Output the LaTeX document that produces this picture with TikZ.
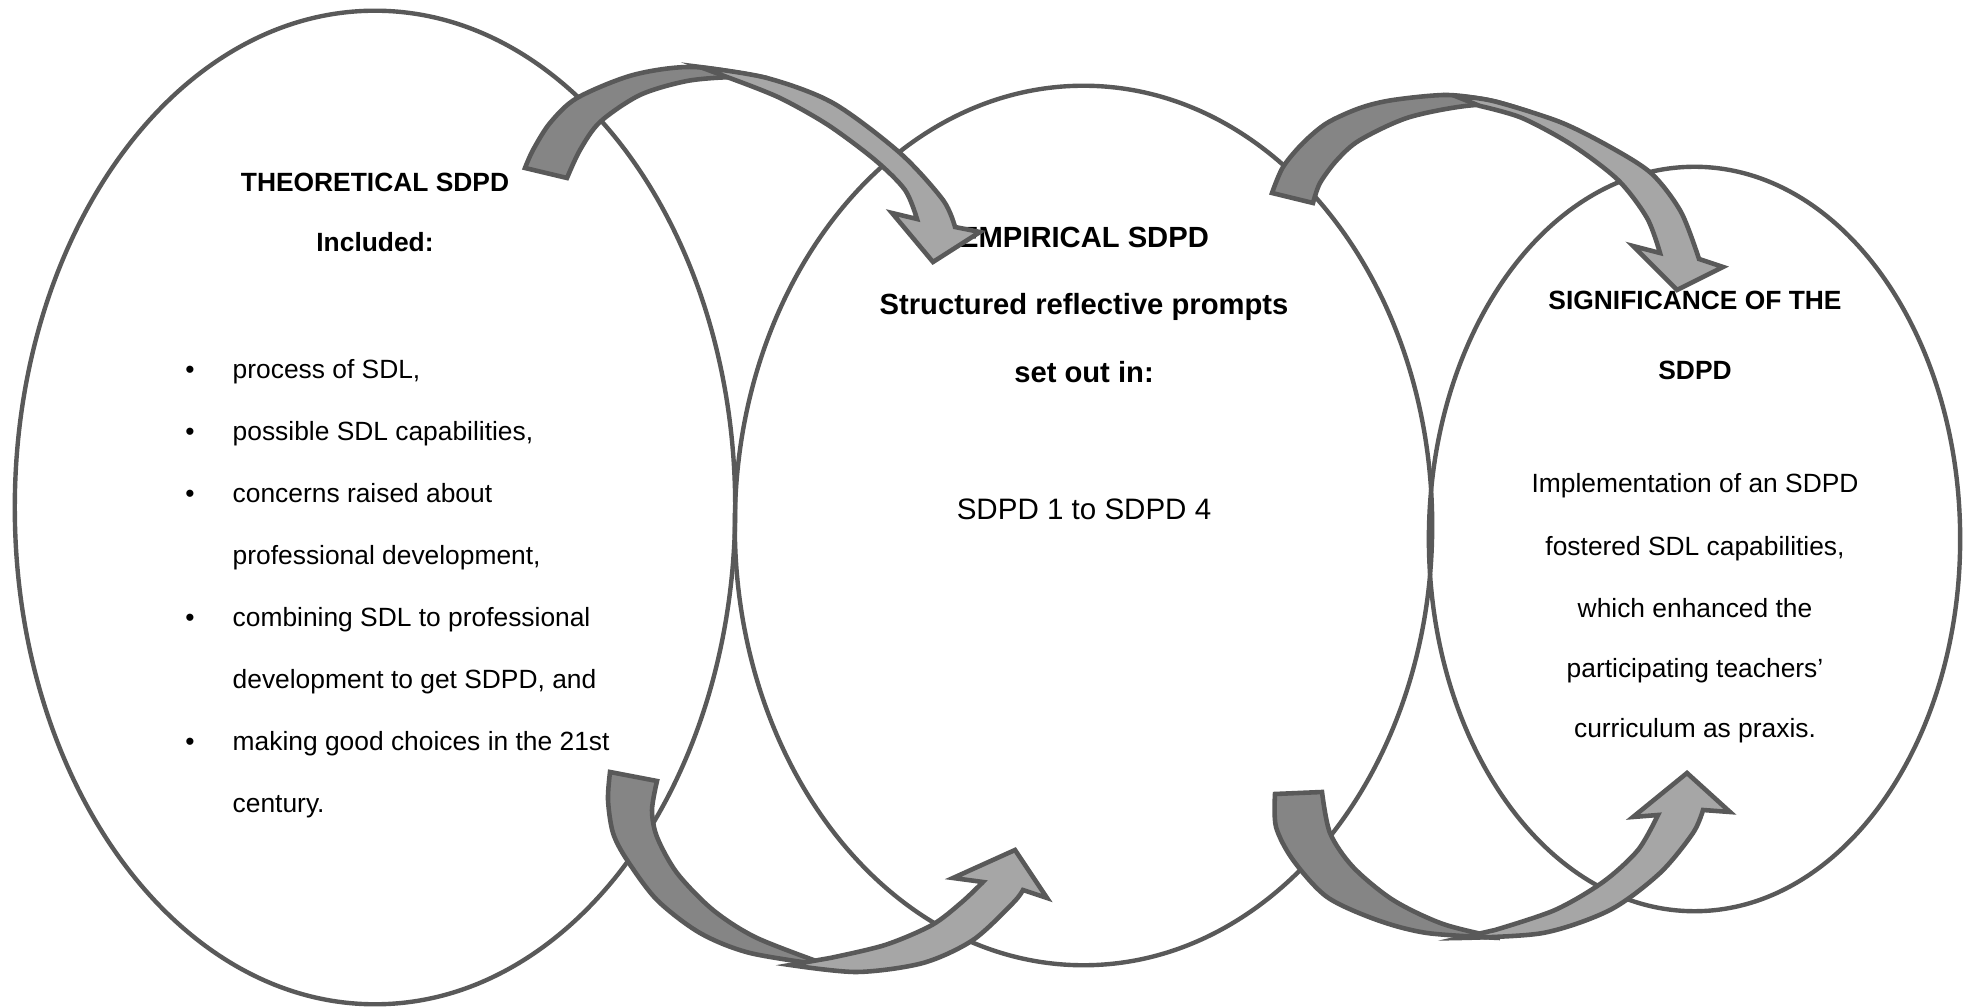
\documentclass[tikz,border=0pt]{standalone}
\usepackage{fontspec}
\setmainfont{Liberation Sans}
\usepackage{xcolor}
\usetikzlibrary{shapes.geometric}

\definecolor{rimgray}{HTML}{595959}
\definecolor{backgray}{HTML}{858585}
\definecolor{frontgray}{HTML}{A6A6A6}

\tikzset{
  oval/.style={draw=rimgray, line width=1.25pt, ellipse, inner sep=0pt},
  back/.style={draw=rimgray, fill=backgray, line width=1.3pt},
  front/.style={draw=rimgray, fill=frontgray, line width=1.3pt},
  titletext/.style={font=\fontsize{7.5}{9}\selectfont\bfseries, anchor=base, inner sep=0pt},
  midtext/.style={font=\fontsize{8.3}{10}\selectfont\bfseries, anchor=base, inner sep=0pt},
  bodytext/.style={font=\fontsize{7.5}{9}\selectfont, anchor=base, inner sep=0pt},
}

\begin{document}
\begin{tikzpicture}[x=0.01cm, y=-0.01cm]
\useasboundingbox (0,0) rectangle (1964,1007);

% Ovals
\node[oval, minimum width=7.2cm, minimum height=9.93cm] (theo) at (375,507.5) {};
\node[oval, minimum width=6.97cm, minimum height=8.79cm] (emp) at (1083.5,525.5) {};
\node[oval, minimum width=5.31cm, minimum height=7.44cm] (sig) at (1694.5,539) {};

% Oval A: theoretical
\node[titletext] (theotitle) at (375,192) {THEORETICAL SDPD};
\node[titletext] (theoincl) at (375,252) {Included:};
\node[bodytext] (dot1) at (190,379) {\textbullet};
\node[bodytext, anchor=base west] (item1) at (232,379) {process of SDL,};
\node[bodytext] (dot2) at (190,441) {\textbullet};
\node[bodytext, anchor=base west] (item2) at (232,441) {possible SDL capabilities,};
\node[bodytext] (dot3) at (190,503) {\textbullet};
\node[bodytext, anchor=base west] (item3) at (232,503) {concerns raised about};
\node[bodytext, anchor=base west] (item3b) at (232,565) {professional development,};
\node[bodytext] (dot4) at (190,627) {\textbullet};
\node[bodytext, anchor=base west] (item4) at (232,627) {combining SDL to professional};
\node[bodytext, anchor=base west] (item4b) at (232,689) {development to get SDPD, and};
\node[bodytext] (dot5) at (190,751) {\textbullet};
\node[bodytext, anchor=base west] (item5) at (232,751) {making good choices in the 21st};
\node[bodytext, anchor=base west] (item5b) at (232,813) {century.};

% Oval B: empirical
\node[midtext] (emptitle) at (1084,248) {EMPIRICAL SDPD};
\node[midtext] (empsub) at (1084,315) {Structured reflective prompts};
\node[midtext] (empset) at (1084,383) {set out in:};
\node[bodytext, font=\fontsize{8.4}{10}\selectfont] (emprange) at (1084,520) {SDPD 1 to SDPD 4};

% Oval C: significance
\node[titletext] (sigtitle) at (1695,310) {SIGNIFICANCE OF THE};
\node[titletext] (sigtitleb) at (1695,380) {SDPD};
\node[bodytext] (sigline1) at (1695,493) {Implementation of an SDPD};
\node[bodytext] (sigline2) at (1695,556) {fostered SDL capabilities,};
\node[bodytext] (sigline3) at (1695,618) {which enhanced the};
\node[bodytext] (sigline4) at (1695,678) {participating teachers’};
\node[bodytext] (sigline5) at (1695,738) {curriculum as praxis.};

% Curved arrow, top left
\filldraw[back] plot[smooth] coordinates {(525,168) (533,150) (550,123) (577,98) (633,75) (693,67) (767,78)}
  -- plot[smooth] coordinates {(767,78) (733,77) (687,81) (640,95) (600,122) (580,150) (567,178)} -- cycle;
\filldraw[front] plot[smooth] coordinates {(700,67) (767,78) (833,103) (900,153) (943,200) (955,227)}
  -- (980,232) -- (933,262) -- (892,213) -- (917,219)
  -- plot[smooth] coordinates {(917,219) (905,190) (875,160) (828,125) (780,98) (735,80)} -- cycle;

% Curved arrow, top right
\filldraw[back] plot[smooth] coordinates {(1272,193) (1283,167) (1303,143) (1327,123) (1360,108) (1393,100) (1447,95) (1493,101) (1530,112)}
  -- plot[smooth] coordinates {(1530,112) (1477,105) (1410,117) (1360,140) (1337,160) (1320,183) (1313,203)} -- cycle;
\filldraw[front] plot[smooth] coordinates {(1455,96) (1493,101) (1560,122) (1612,148) (1652,174) (1681,212) (1699,259)}
  -- (1723,267) -- (1677,290) -- (1633,246) -- (1660,253)
  -- plot[smooth] coordinates {(1660,253) (1647,218) (1618,180) (1572,145) (1522,118) (1480,106)} -- cycle;

% Curved arrow, bottom left
\filldraw[back] plot[smooth] coordinates {(610,772) (608,800) (613,833) (627,860) (657,900) (700,933) (750,953) (830,966)}
  -- plot[smooth] coordinates {(830,966) (757,938) (713,910) (677,873) (657,837) (652,810) (657,781)} -- cycle;
\filldraw[front] plot[smooth] coordinates {(790,965) (857,972) (923,963) (973,940) (1013,903) (1023,890)}
  -- (1047,898) -- (1015,850) -- (953,878) -- (983,882)
  -- plot[smooth] coordinates {(983,882) (962,902) (932,925) (885,945) (830,958)} -- cycle;

% Curved arrow, bottom right
\filldraw[back] plot[smooth] coordinates {(1275,794) (1276,827) (1293,860) (1327,897) (1377,920) (1427,933) (1500,938)}
  -- plot[smooth] coordinates {(1500,938) (1443,924) (1393,900) (1353,867) (1330,833) (1322,792)} -- cycle;
\filldraw[front] plot[smooth] coordinates {(1460,938) (1543,933) (1610,910) (1660,873) (1693,833) (1703,810)}
  -- (1730,812) -- (1687,773) -- (1633,817) -- (1658,815)
  -- plot[smooth] coordinates {(1658,815) (1638,850) (1603,882) (1555,910) (1495,930)} -- cycle;
\end{tikzpicture}
\end{document}
